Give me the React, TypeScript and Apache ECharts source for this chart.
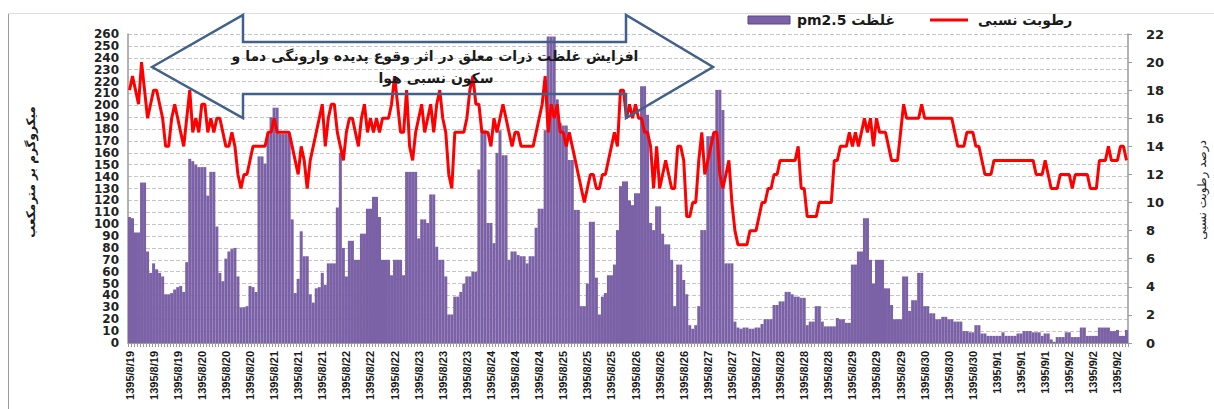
import React, { useEffect, useRef } from 'react';
import * as echarts from 'echarts';

// ---- data ----
const days = [
  '1395/8/19', '1395/8/20', '1395/8/21', '1395/8/22', '1395/8/23', '1395/8/24', '1395/8/25',
  '1395/8/26', '1395/8/27', '1395/8/28', '1395/8/29', '1395/8/30', '1395/9/1', '1395/9/2',
];
const hoursPerDay = 24;

// hourly PM2.5 concentration (µg/m3)
const pm25 = [
  106, 105, 93, 93, 135, 135, 77, 59, 67, 62,
  59, 56, 41, 41, 42, 45, 47, 48, 43, 68,
  155, 153, 150, 148, 148, 148, 124, 144, 144, 98,
  59, 52, 71, 77, 79, 80, 56, 30, 30, 31,
  48, 47, 43, 157, 157, 151, 176, 190, 198, 198,
  176, 176, 176, 176, 104, 42, 54, 94, 73, 73,
  41, 34, 46, 47, 59, 49, 67, 67, 67, 114,
  160, 80, 56, 86, 86, 70, 70, 92, 92, 113,
  113, 123, 123, 106, 70, 70, 70, 57, 70, 70,
  70, 57, 144, 144, 144, 144, 88, 104, 104, 101,
  125, 125, 81, 70, 70, 56, 24, 24, 39, 39,
  43, 50, 56, 56, 60, 60, 146, 179, 179, 101,
  101, 84, 160, 179, 158, 158, 70, 77, 77, 74,
  73, 73, 67, 73, 73, 97, 113, 113, 179, 258,
  258, 258, 205, 185, 183, 183, 154, 154, 112, 112,
  31, 31, 50, 102, 102, 55, 24, 39, 42, 57,
  57, 66, 95, 132, 136, 136, 120, 116, 126, 126,
  216, 216, 192, 101, 95, 115, 115, 92, 83, 83,
  70, 31, 66, 66, 53, 41, 15, 12, 15, 31,
  95, 95, 174, 174, 176, 213, 213, 196, 67, 67,
  67, 18, 13, 12, 13, 13, 12, 12, 13, 13,
  16, 20, 20, 20, 32, 32, 35, 35, 43, 43,
  41, 39, 39, 38, 38, 15, 18, 18, 31, 31,
  18, 14, 14, 14, 14, 21, 20, 20, 17, 17,
  66, 66, 77, 77, 105, 105, 70, 50, 70, 70,
  70, 46, 46, 32, 20, 20, 20, 56, 56, 27,
  36, 36, 59, 59, 31, 31, 25, 25, 20, 20,
  22, 22, 20, 20, 18, 18, 18, 10, 10, 9,
  9, 15, 15, 8, 8, 6, 6, 6, 6, 6,
  9, 6, 6, 6, 6, 8, 8, 10, 10, 10,
  9, 9, 9, 6, 8, 8, 3, 1, 5, 5,
  5, 9, 9, 5, 5, 5, 13, 13, 6, 6,
  6, 6, 13, 13, 13, 13, 10, 10, 11, 6,
  6, 11,
];

// hourly relative humidity (%)
const humidity = [
  18, 19, 18, 17, 20, 18, 16, 17, 18, 18,
  17, 16, 14, 14, 16, 17, 16, 15, 14, 16,
  18, 15, 16, 15, 17, 17, 15, 16, 15, 16,
  16, 15, 14, 14, 15, 14, 12, 11, 12, 12,
  13, 14, 14, 14, 14, 14, 15, 15, 16, 15,
  15, 15, 15, 15, 14, 13, 12, 14, 13, 11,
  13, 14, 15, 16, 17, 14, 16, 17, 17, 15,
  14, 13, 15, 16, 16, 15, 14, 16, 17, 15,
  16, 15, 16, 15, 16, 16, 16, 17, 19, 17,
  15, 15, 18, 14, 13, 15, 16, 17, 15, 16,
  17, 15, 17, 18, 16, 15, 12, 11, 15, 15,
  15, 15, 16, 18, 19, 17, 17, 15, 15, 15,
  14, 16, 15, 16, 17, 16, 15, 14, 15, 15,
  14, 14, 14, 14, 14, 15, 16, 17, 19, 15,
  17, 16, 17, 15, 15, 14, 15, 14, 13, 12,
  11, 10, 11, 12, 12, 11, 11, 12, 12, 13,
  14, 15, 14, 18, 18, 16, 17, 16, 17, 16,
  16, 15, 15, 14, 11, 14, 11, 12, 13, 12,
  11, 11, 14, 14, 13, 9, 9, 10, 10, 13,
  15, 12, 13, 14, 15, 15, 12, 11, 12, 13,
  10, 8, 7, 7, 7, 7, 8, 8, 8, 9,
  10, 10, 11, 11, 12, 12, 13, 13, 13, 13,
  13, 13, 14, 11, 11, 9, 9, 9, 9, 10,
  10, 10, 10, 10, 13, 13, 14, 14, 14, 15,
  14, 15, 14, 15, 16, 15, 16, 14, 16, 15,
  15, 15, 14, 13, 13, 13, 15, 17, 16, 16,
  16, 16, 16, 17, 16, 16, 16, 16, 16, 16,
  16, 16, 16, 16, 15, 14, 14, 14, 15, 15,
  15, 14, 14, 13, 12, 12, 12, 13, 13, 13,
  13, 13, 13, 13, 13, 13, 13, 13, 13, 13,
  13, 12, 12, 12, 13, 12, 11, 11, 11, 12,
  12, 12, 12, 11, 12, 12, 12, 12, 12, 11,
  11, 11, 13, 13, 13, 14, 13, 13, 13, 14,
  14, 13,
];

const leftAxisName = 'میکروگرم بر مترمکعب';
const rightAxisName = 'درصد رطوبت نسبی';
const barName = 'pm2.5 غلظت';
const lineName = 'رطوبت نسبی';
const arrowLine1 = 'افزایش غلظت ذرات معلق در اثر وقوع پدیده وارونگی دما و';
const arrowLine2 = 'سکون نسبی هوا';

const categories = pm25.map((_, i) => days[Math.floor(i / hoursPerDay)]);

const PURPLE = '#7b61a6';
const RED = '#ff0000';
const AXIS = '#9a9a9a';
const ARROW = '#42618a';
const FONT = 'DejaVu Sans';

export default function App() {
  const ref = useRef<HTMLDivElement>(null);
  useEffect(() => {
    if (!ref.current) return;
    const chart = echarts.init(ref.current, undefined, { renderer: 'svg' });
    chart.setOption({
      animation: false,
      backgroundColor: '#ffffff',
      grid: { left: 128, right: 86, top: 34, bottom: 66 },
      xAxis: {
        type: 'category',
        data: categories,
        boundaryGap: true,
        axisLine: { lineStyle: { color: AXIS, width: 1 } },
        axisTick: { show: true, interval: 0, length: 4, lineStyle: { color: AXIS } },
        axisLabel: {
          interval: 7,
          rotate: 90,
          margin: 8,
          fontFamily: 'Liberation Sans',
          fontWeight: 'bold',
          fontSize: 11,
          color: '#1a1a1a',
        },
        splitLine: { show: false },
      },
      yAxis: [
        {
          type: 'value',
          min: 0,
          max: 260,
          interval: 10,
          position: 'left',
          axisLine: { show: true, lineStyle: { color: AXIS, width: 1.5 } },
          axisTick: { show: false },
          axisLabel: { margin: 9, fontFamily: FONT, fontWeight: 'bold', fontSize: 12, color: '#222' },
          splitLine: { show: true, lineStyle: { color: '#c6c6c6', type: [4, 2], width: 1 } },
        },
        {
          type: 'value',
          min: 0,
          max: 22,
          interval: 2,
          position: 'right',
          axisLine: { show: true, lineStyle: { color: AXIS, width: 1.5 } },
          axisTick: { show: true, length: 4, lineStyle: { color: AXIS } },
          axisLabel: { margin: 18, fontFamily: FONT, fontWeight: 'bold', fontSize: 13, color: '#222' },
          splitLine: { show: false },
        },
      ],
      series: [
        {
          name: barName,
          type: 'bar',
          data: pm25,
          yAxisIndex: 0,
          barCategoryGap: '0%',
          itemStyle: { color: PURPLE },
        },
        {
          name: lineName,
          type: 'line',
          data: humidity,
          yAxisIndex: 1,
          symbol: 'none',
          lineStyle: { color: RED, width: 3 },
          z: 3,
        },
      ],
      graphic: [
        { type: 'line', z: 100, shape: { x1: 8.5, y1: 13, x2: 8.5, y2: 409 }, style: { stroke: '#9a9a9a', lineWidth: 1 } },
        { type: 'line', z: 100, shape: { x1: 8, y1: 13.5, x2: 1214, y2: 13.5 }, style: { stroke: '#dddddd', lineWidth: 1 } },
        {
          type: 'polygon',
          z: 100,
          shape: {
            points: [
              [152, 67], [243, 15], [243, 42], [626, 42], [626, 15],
              [713, 67], [626, 118], [626, 94], [243, 94], [243, 118],
            ],
          },
          style: { fill: 'none', stroke: ARROW, lineWidth: 2.5 },
        },
        {
          type: 'text', z: 101, x: 435, y: 56,
          style: { text: arrowLine1, fill: '#1a1a1a', font: `bold 14px "${FONT}"`, textAlign: 'center', textVerticalAlign: 'middle' },
        },
        {
          type: 'text', z: 101, x: 436, y: 78,
          style: { text: arrowLine2, fill: '#1a1a1a', font: `bold 14px "${FONT}"`, textAlign: 'center', textVerticalAlign: 'middle' },
        },
        { type: 'rect', z: 100, shape: { x: 748, y: 16, width: 42, height: 8 }, style: { fill: PURPLE, stroke: '#5b4786', lineWidth: 1 } },
        {
          type: 'text', z: 100, x: 797, y: 20,
          style: { text: barName, fill: '#1a1a1a', font: `bold 14px "${FONT}"`, textAlign: 'left', textVerticalAlign: 'middle' },
        },
        { type: 'line', z: 100, shape: { x1: 930, y1: 20, x2: 968, y2: 20 }, style: { stroke: RED, lineWidth: 3 } },
        {
          type: 'text', z: 100, x: 978, y: 20,
          style: { text: lineName, fill: '#1a1a1a', font: `bold 14px "${FONT}"`, textAlign: 'left', textVerticalAlign: 'middle' },
        },
        {
          type: 'text', z: 100, x: 31, y: 172, rotation: Math.PI / 2,
          style: { text: leftAxisName, fill: '#1a1a1a', font: `bold 12px "${FONT}"`, textAlign: 'center', textVerticalAlign: 'middle' },
        },
        {
          type: 'text', z: 100, x: 1202, y: 190, rotation: Math.PI / 2,
          style: { text: rightAxisName, fill: '#1a1a1a', font: `12px "${FONT}"`, textAlign: 'center', textVerticalAlign: 'middle' },
        },
      ],
    });
    return () => chart.dispose();
  }, []);
  return <div ref={ref} style={{ position: 'fixed', left: 0, top: 0, width: 1214, height: 409 }} />;
}
